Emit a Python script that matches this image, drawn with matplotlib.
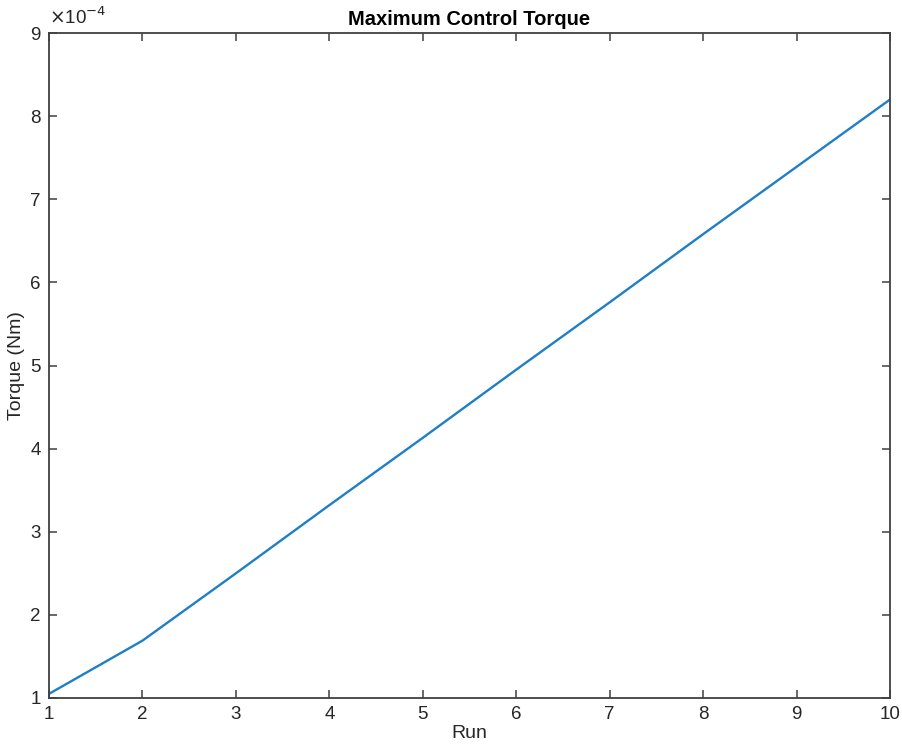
import matplotlib
matplotlib.use('Agg')
import matplotlib.pyplot as plt
from matplotlib.ticker import FuncFormatter

plt.rcParams['font.family'] = ['Liberation Sans', 'DejaVu Sans']

# Data
runs = [1, 2, 3, 4, 5, 6, 7, 8, 9, 10]
torque = [1.05e-4, 1.69e-4, 2.50e-4, 3.32e-4, 4.13e-4, 4.95e-4, 5.76e-4, 6.58e-4, 7.39e-4, 8.20e-4]
scale = 1e-4

fig = plt.figure(figsize=(9.03, 7.47), dpi=100)
ax = fig.add_axes([0.0543, 0.0656, 0.9313, 0.8902])

ax.plot(runs, torque, color='#1f7fc6', linewidth=1.7)

ax.set_xlim(1, 10)
ax.set_ylim(1e-4, 9e-4)
ax.set_xticks(range(1, 11))
ax.set_yticks([i * scale for i in range(1, 10)])
ax.yaxis.set_major_formatter(FuncFormatter(lambda v, p: f"{v / scale:.0f}"))

edge = '#404040'
for s in ax.spines.values():
    s.set_color(edge)
    s.set_linewidth(1.3)
ax.tick_params(direction='in', top=True, right=True, length=6, width=1.1,
               color=edge, labelsize=13.5, labelcolor='#262626', pad=6)

ax.set_title('Maximum Control Torque', fontsize=14.5, fontweight='bold', pad=6)
ax.set_xlabel('Run', fontsize=14, labelpad=1, color='#262626')
ax.set_ylabel('Torque (Nm)', fontsize=14, labelpad=4, color='#262626')

ax.text(0.0, 1.008, r'$\times$10$^{\mathsf{-4}}$', transform=ax.transAxes, fontsize=13.5,
        color='#262626', ha='left', va='bottom')

fig.savefig('out.png', dpi=100)
